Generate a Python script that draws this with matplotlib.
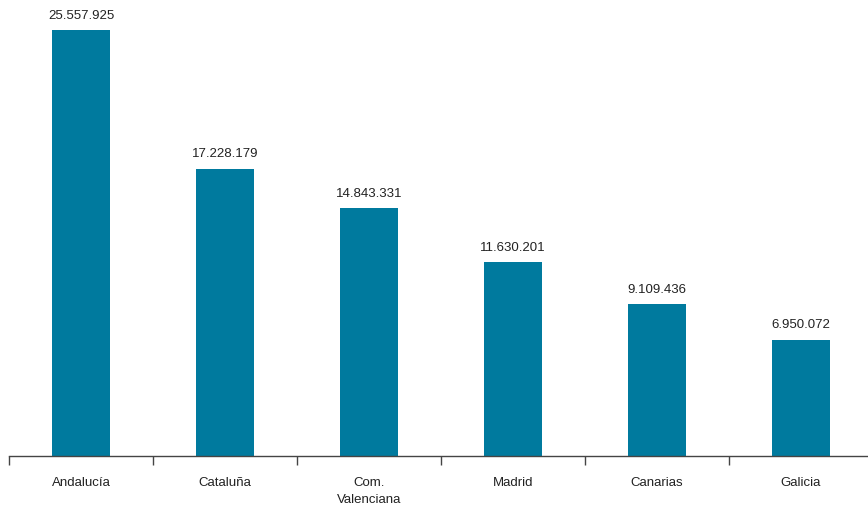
import matplotlib.pyplot as plt
from matplotlib.ticker import FixedLocator

regions = ["Andalucía", "Cataluña", "Com.\nValenciana", "Madrid", "Canarias", "Galicia"]
values = [25557925, 17228179, 14843331, 11630201, 9109436, 6950072]
value_labels = ["25.557.925", "17.228.179", "14.843.331", "11.630.201", "9.109.436", "6.950.072"]


def main():
    plt.rcParams["font.family"] = ["Liberation Sans", "DejaVu Sans"]
    fig = plt.figure(figsize=(8.68, 5.08), dpi=100)
    ax = fig.add_axes([9 / 868, 52.5 / 508, 864 / 868, 455.5 / 508])

    x = list(range(len(regions)))
    ax.bar(x, values, width=0.4, color="#007a9e")
    for xi, v, lab in zip(x, values, value_labels):
        ax.annotate(lab, (xi, v), xytext=(0, 6), textcoords="offset points",
                    ha="center", va="bottom", fontsize=9.5, color="#222222")

    ax.set_xlim(-0.5, len(regions) - 0.5)
    ax.set_ylim(0, 25557925 * 455.5 / 425.5)
    ax.set_xticks(x)
    ax.set_xticklabels(regions, fontsize=9.5, color="#222222", linespacing=1.6)
    ax.tick_params(axis="x", which="major", length=0, pad=15.5)
    ax.xaxis.set_minor_locator(FixedLocator([i - 0.5 for i in range(len(regions) + 1)]))
    ax.tick_params(axis="x", which="minor", length=6.5, width=1, color="#444444")
    ax.set_yticks([])
    for side in ["top", "right", "left"]:
        ax.spines[side].set_visible(False)
    ax.spines["bottom"].set_color("#444444")
    ax.spines["bottom"].set_linewidth(1)

    fig.savefig("out.png", dpi=100)
    plt.close(fig)


if __name__ == "__main__":
    main()
